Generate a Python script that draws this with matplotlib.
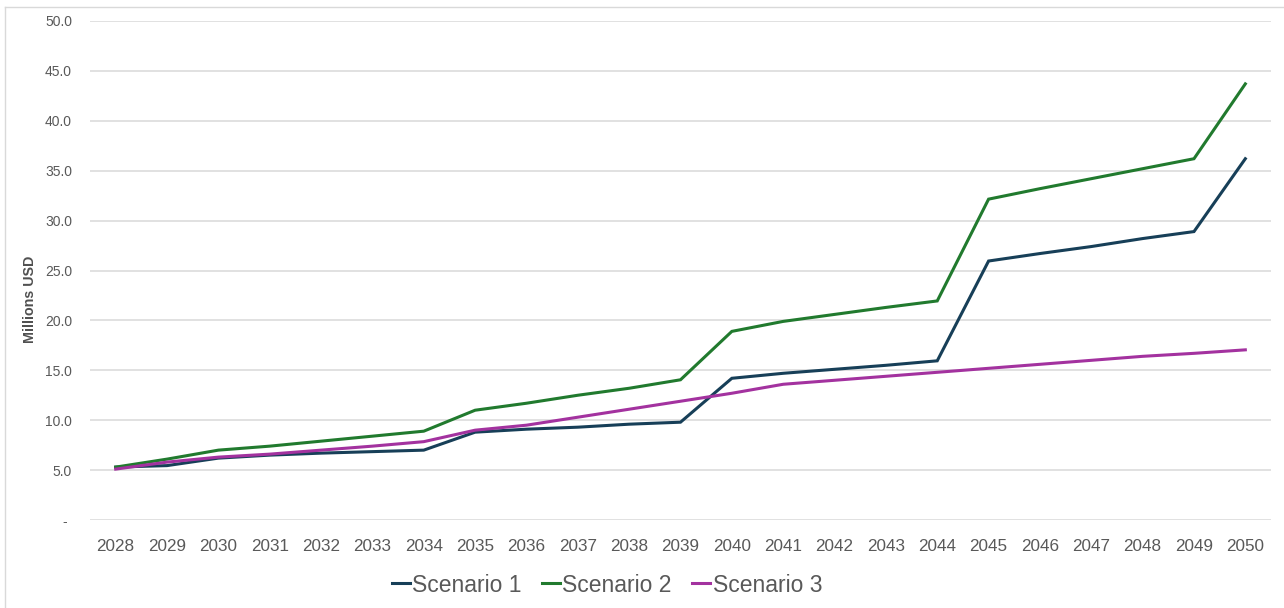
import matplotlib
matplotlib.use("Agg")
import matplotlib.pyplot as plt
from matplotlib.lines import Line2D
from matplotlib import font_manager
from matplotlib.ticker import FuncFormatter, MultipleLocator

years = [str(y) for y in range(2028, 2051)]

scenario_1 = [5.3, 5.45, 6.2, 6.5, 6.7, 6.85, 7.0, 8.8, 9.1, 9.3, 9.6, 9.8,
              14.2, 14.7, 15.1, 15.5, 15.95, 25.95, 26.7, 27.4, 28.2, 28.9, 36.2]
scenario_2 = [5.3, 6.1, 7.0, 7.4, 7.9, 8.4, 8.9, 11.0, 11.7, 12.5, 13.2, 14.05,
              18.9, 19.9, 20.6, 21.3, 21.95, 32.15, 33.2, 34.2, 35.2, 36.2, 43.7]
scenario_3 = [5.1, 5.8, 6.3, 6.6, 7.0, 7.4, 7.85, 9.0, 9.5, 10.3, 11.1, 11.9,
              12.7, 13.6, 14.0, 14.4, 14.8, 15.2, 15.6, 16.0, 16.4, 16.7, 17.05]

series_names = ["Scenario 1", "Scenario 2", "Scenario 3"]
series_colors = ["#173f58", "#217a2e", "#a3329f"]

available = {f.name for f in font_manager.fontManager.ttflist}
base_font = "Liberation Sans" if "Liberation Sans" in available else "DejaVu Sans"
legend_font = "Liberation Sans Narrow" if "Liberation Sans Narrow" in available else base_font
legend_size = 19 if legend_font == "Liberation Sans Narrow" else 16.5

plt.rcParams["font.family"] = [base_font, "DejaVu Sans"]

W, H = 1284, 608
fig = plt.figure(figsize=(W / 100, H / 100), dpi=100)
fig.patch.set_facecolor("white")

# plot area in pixel terms
left, right, top, bottom = 90, 1271, 21, 520
ax = fig.add_axes([left / W, 1 - bottom / H, (right - left) / W, (bottom - top) / H])

x = list(range(len(years)))
for vals, name, col in zip([scenario_1, scenario_2, scenario_3], series_names, series_colors):
    ax.plot(x, vals, color=col, lw=2.2, label=name, solid_joinstyle="miter", zorder=3)

ax.set_xlim(-0.5, len(years) - 0.5)
ax.set_ylim(0, 50)
ax.set_xticks(x)
ax.set_xticklabels(years)
ax.yaxis.set_major_locator(MultipleLocator(5))
ax.yaxis.set_major_formatter(FuncFormatter(lambda v, p: "- " if abs(v) < 1e-9 else f"{v:.1f}"))

ax.grid(axis="y", color="#d9d9d9", lw=1.1, zorder=0)
ax.grid(axis="x", visible=False)
for gl in ax.get_ygridlines()[-1:]:
    gl.set_color("#f0f0f0")
for s in ax.spines.values():
    s.set_visible(False)

ax.tick_params(axis="y", length=0, pad=13, labelsize=10, labelcolor="#595959")
ax.tick_params(axis="x", length=0, pad=14, labelsize=12.3, labelcolor="#595959")

ax.set_ylabel("Millions USD", fontsize=10.3, fontweight="bold", color="#505050")
ax.yaxis.set_label_coords(-0.0448, 0.443)

handles = [Line2D([], [], color=c, lw=2.2) for c in series_colors]
leg = fig.legend(handles, series_names, loc="center", bbox_to_anchor=(607 / W, 23 / H),
                 ncol=3, frameon=False, handlelength=0.78, handletextpad=0.1,
                 columnspacing=0.9, prop={"family": legend_font, "size": legend_size})
for t in leg.get_texts():
    t.set_color("#595959")

# chart-area border on the left and top
fig.add_artist(Line2D([5 / W, 5 / W], [0, 1 - 7 / H], transform=fig.transFigure, color="#d9d9d9", lw=1))
fig.add_artist(Line2D([5 / W, 1], [1 - 7 / H, 1 - 7 / H], transform=fig.transFigure, color="#d9d9d9", lw=1))

fig.savefig("out.png", dpi=100, facecolor="white")
